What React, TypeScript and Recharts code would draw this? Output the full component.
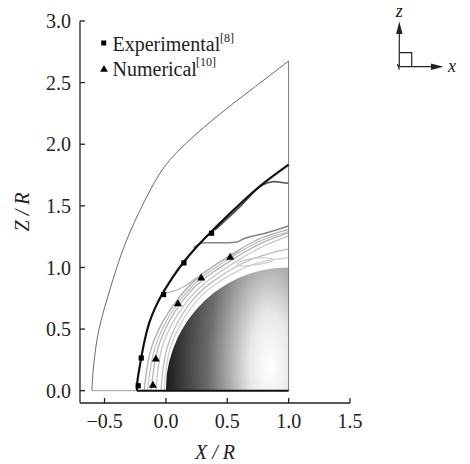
import { ComposedChart, Line, Area, Scatter, XAxis, YAxis } from 'recharts';

// axis ticks
const xTicks = [-0.5, 0, 0.5, 1, 1.5];
const zTicks = [0, 0.5, 1, 1.5, 2, 2.5, 3];

// computational domain boundary (thin lines)
const outerBoundary = [
  { x: -0.603, z: 0 }, { x: -0.592, z: 0.17 }, { x: -0.557, z: 0.44 }, { x: -0.489, z: 0.71 },
  { x: -0.38, z: 1.06 }, { x: -0.26, z: 1.36 }, { x: -0.082, z: 1.71 }, { x: 0.108, z: 1.953 },
  { x: 0.38, z: 2.196 }, { x: 0.652, z: 2.41 }, { x: 1, z: 2.675 },
];
const rightBoundary = [{ x: 1, z: 0 }, { x: 1, z: 2.675 }];
const freeStreamAxis = [{ x: -0.603, z: 0 }, { x: -0.236, z: 0 }];
const wakeAxis = [{ x: -0.236, z: 0 }, { x: 1, z: 0 }];

// sphere surface
const sphere = [
  { x: 0, z: 0 }, { x: 0.005, z: 0.1 }, { x: 0.02, z: 0.2 }, { x: 0.046, z: 0.3 },
  { x: 0.083, z: 0.4 }, { x: 0.134, z: 0.5 }, { x: 0.2, z: 0.6 }, { x: 0.286, z: 0.7 },
  { x: 0.4, z: 0.8 }, { x: 0.564, z: 0.9 }, { x: 0.7, z: 0.954 }, { x: 0.85, z: 0.989 }, { x: 1, z: 1 },
];

// computed shock front
const shock = [
  { x: -0.236, z: 0 }, { x: -0.232, z: 0.08 }, { x: -0.204, z: 0.25 }, { x: -0.175, z: 0.4 },
  { x: -0.136, z: 0.55 }, { x: -0.084, z: 0.68 }, { x: -0.027, z: 0.79 }, { x: 0.055, z: 0.92 },
  { x: 0.149, z: 1.048 }, { x: 0.253, z: 1.17 }, { x: 0.37, z: 1.29 }, { x: 0.54, z: 1.455 },
  { x: 0.76, z: 1.655 }, { x: 1, z: 1.835 },
];

// contour lines
const contourDark = [
  { x: 0.4, z: 1.305 }, { x: 0.5, z: 1.395 }, { x: 0.6, z: 1.49 }, { x: 0.706, z: 1.6 },
  { x: 0.79, z: 1.67 }, { x: 0.87, z: 1.696 }, { x: 0.93, z: 1.692 }, { x: 1, z: 1.683 },
];
const contourMid = [
  { x: 0.225, z: 1.16 }, { x: 0.312, z: 1.2 }, { x: 0.45, z: 1.2 }, { x: 0.57, z: 1.205 },
  { x: 0.64, z: 1.235 }, { x: 0.815, z: 1.28 }, { x: 1, z: 1.337 },
];
const contourOuter = [
  { x: -0.027, z: 0.79 }, { x: 0.054, z: 0.805 }, { x: 0.149, z: 0.845 }, { x: 0.245, z: 0.913 },
  { x: 0.34, z: 0.98 }, { x: 0.45, z: 1.05 }, { x: 0.6, z: 1.13 },
];
const band1 = [
  { x: -0.177, z: 0 }, { x: -0.1, z: 0.4 }, { x: 0.104, z: 0.752 }, { x: 0.323, z: 0.966 },
  { x: 0.586, z: 1.137 }, { x: 0.781, z: 1.241 }, { x: 1, z: 1.31 },
];
const band2 = [
  { x: -0.15, z: 0 }, { x: -0.076, z: 0.392 }, { x: 0.119, z: 0.739 }, { x: 0.334, z: 0.95 },
  { x: 0.593, z: 1.119 }, { x: 0.784, z: 1.221 }, { x: 1, z: 1.29 },
];
const band3 = [
  { x: -0.12, z: 0 }, { x: -0.053, z: 0.383 }, { x: 0.134, z: 0.727 }, { x: 0.346, z: 0.934 },
  { x: 0.6, z: 1.1 }, { x: 0.788, z: 1.202 }, { x: 1, z: 1.28 },
];
const band4 = [
  { x: -0.08, z: 0 }, { x: -0.025, z: 0.373 }, { x: 0.157, z: 0.707 }, { x: 0.363, z: 0.909 },
  { x: 0.61, z: 1.072 }, { x: 0.793, z: 1.172 }, { x: 1, z: 1.256 },
];
const band5 = [
  { x: -0.04, z: 0 }, { x: 0.013, z: 0.359 }, { x: 0.18, z: 0.688 }, { x: 0.38, z: 0.885 },
  { x: 0.624, z: 1.034 }, { x: 0.805, z: 1.103 }, { x: 1, z: 1.15 },
];
const band6 = [
  { x: -0.014, z: 0 }, { x: 0.037, z: 0.351 }, { x: 0.203, z: 0.669 }, { x: 0.397, z: 0.86 },
  { x: 0.637, z: 0.996 }, { x: 0.814, z: 1.054 }, { x: 1, z: 1.08 },
];
const loop = [
  { x: 0.55, z: 1.02 }, { x: 0.65, z: 1.07 }, { x: 0.8, z: 1.085 }, { x: 0.88, z: 1.07 },
  { x: 0.86, z: 1.04 }, { x: 0.75, z: 1.025 }, { x: 0.62, z: 1.005 },
];

// markers
const experimental = [
  { x: -0.226, z: 0.04 }, { x: -0.201, z: 0.265 }, { x: -0.019, z: 0.78 },
  { x: 0.147, z: 1.037 }, { x: 0.372, z: 1.278 },
];
const numerical = [
  { x: -0.106, z: 0.046 }, { x: -0.082, z: 0.26 }, { x: 0.098, z: 0.707 },
  { x: 0.288, z: 0.916 }, { x: 0.524, z: 1.086 },
];

const serif = '"Liberation Serif", "Times New Roman", serif';
const fmt = (v: number) => v.toFixed(1).replace('-', '\u2212');

const Square = (p: any) => <rect x={p.cx - 2.6} y={p.cy - 2.6} width={5.2} height={5.2} fill="#000" />;
const Tri = (p: any) => (
  <path d={`M${p.cx},${p.cy - 4.2} L${p.cx + 4},${p.cy + 2.8} L${p.cx - 4},${p.cy + 2.8} Z`} fill="#000" />
);

function XLabel({ viewBox }: any) {
  return (
    <text x={viewBox.x + viewBox.width / 2} y={viewBox.y + viewBox.height - 5} textAnchor="middle"
      fontFamily={serif} fontSize={20} fontStyle="italic" fill="#222">X / R</text>
  );
}

function YLabel({ viewBox }: any) {
  const cx = 28.5;
  const cy = viewBox.y + viewBox.height / 2;
  return (
    <text x={cx} y={cy} transform={`rotate(-90 ${cx} ${cy})`} textAnchor="middle"
      fontFamily={serif} fontSize={20} fontStyle="italic" fill="#222">Z / R</text>
  );
}

function curve(data: any[], color: string, width: number, type: any = 'natural', key?: string) {
  return (
    <Line key={key} data={data} dataKey="z" type={type} stroke={color} strokeWidth={width}
      dot={false} activeDot={false} isAnimationActive={false} legendType="none" />
  );
}

export default function App() {
  return (
    <div style={{ position: 'absolute', left: 0, top: 0, width: 470, height: 464, background: '#fff' }}>
      <ComposedChart width={470} height={464} margin={{ top: 21, right: 120, bottom: 0, left: 0 }}>
        <defs>
          <radialGradient id="sphereGrad" cx="0.85" cy="0.8" r="0.85"
            gradientTransform="translate(0.85 0.8) scale(1 2.5) translate(-0.85 -0.8)">
            <stop offset="0" stopColor="#ffffff" />
            <stop offset="0.2" stopColor="#e8e8e8" />
            <stop offset="0.4" stopColor="#aaaaaa" />
            <stop offset="0.6" stopColor="#6a6a6a" />
            <stop offset="0.8" stopColor="#444444" />
            <stop offset="1" stopColor="#1a1a1a" />
          </radialGradient>
        </defs>
        <XAxis dataKey="x" type="number" domain={[-0.7, 1.5]} ticks={xTicks} allowDataOverflow
          height={61} tickFormatter={fmt} tickSize={-5} tickMargin={16}
          axisLine={{ stroke: '#222', strokeWidth: 1.3 }} tickLine={{ stroke: '#222', strokeWidth: 1.3 }}
          tick={{ fill: '#222', fontSize: 20, fontFamily: serif }} label={<XLabel />} />
        <YAxis dataKey="z" type="number" domain={[-0.1, 3]} ticks={zTicks} allowDataOverflow
          width={80} tickFormatter={fmt} tickSize={-5} tickMargin={14}
          axisLine={{ stroke: '#222', strokeWidth: 1.3 }} tickLine={{ stroke: '#222', strokeWidth: 1.3 }}
          tick={{ fill: '#222', fontSize: 20, fontFamily: serif }} label={<YLabel />} />

        <Area data={sphere} dataKey="z" type="monotone" baseValue={0} stroke="none"
          fill="url(#sphereGrad)" fillOpacity={1} dot={false} activeDot={false} isAnimationActive={false} />

        {curve(band6, '#cfcfcf', 1.3, 'natural', 'b6')}
        {curve(band5, '#bdbdbd', 1.3, 'natural', 'b5')}
        {curve(band4, '#c6c6c6', 1.3, 'natural', 'b4')}
        {curve(band3, '#b4b4b4', 1.3, 'natural', 'b3')}
        {curve(band2, '#c2c2c2', 1.3, 'natural', 'b2')}
        {curve(band1, '#adadad', 1.3, 'natural', 'b1')}
        {curve(loop, '#cccccc', 1.3, 'basisClosed', 'lp')}
        {curve(contourOuter, '#b8b8b8', 1.3, 'natural', 'co')}
        {curve(contourMid, '#858585', 1.6, 'monotone', 'cm')}
        {curve(contourDark, '#505050', 1.6, 'natural', 'cd')}

        {curve(outerBoundary, '#444', 0.8, 'natural', 'ob')}
        {curve(rightBoundary, '#777', 1, 'linear', 'rb')}
        {curve(freeStreamAxis, '#888', 0.8, 'linear', 'fa')}
        {curve(wakeAxis, '#111', 2, 'linear', 'wa')}
        {curve(shock, '#111', 2.2, 'natural', 'sh')}

        <Scatter data={experimental} dataKey="z" shape={Square} isAnimationActive={false} />
        <Scatter data={numerical} dataKey="z" shape={Tri} isAnimationActive={false} />
      </ComposedChart>

      <svg width={470} height={464} style={{ position: 'absolute', left: 0, top: 0, pointerEvents: 'none' }}>
        <g fontFamily={serif} fill="#222">
          <rect x={101.2} y={40.5} width={5} height={5} fill="#000" />
          <text x={112.5} y={51} fontSize={20}>Experimental</text>
          <text x={220} y={42} fontSize={12}>[8]</text>
          <path d="M104,65 L107.8,71.8 L100.2,71.8 Z" fill="#000" />
          <text x={112.5} y={75.5} fontSize={20}>Numerical</text>
          <text x={196} y={66} fontSize={12}>[10]</text>
        </g>
        <g stroke="#222" strokeWidth={1.2} fill="none">
          <line x1={399.3} y1={67} x2={399.3} y2={32} />
          <line x1={399.3} y1={66.7} x2={432} y2={66.7} />
          <polyline points="399.3,52.7 411.7,52.7 411.7,66.7" />
          <line x1={397.5} y1={64} x2={399.3} y2={69.5} />
        </g>
        <path d="M399.3,21.5 L402.5,34 L396.1,34 Z" fill="#222" />
        <path d="M443.5,66.7 L431,63.5 L431,69.9 Z" fill="#222" />
        <text x={399.3} y={17} fontSize={18} fontStyle="italic" fontFamily={serif} textAnchor="middle" fill="#222">z</text>
        <text x={448} y={72} fontSize={18} fontStyle="italic" fontFamily={serif} fill="#222">x</text>
      </svg>
    </div>
  );
}
